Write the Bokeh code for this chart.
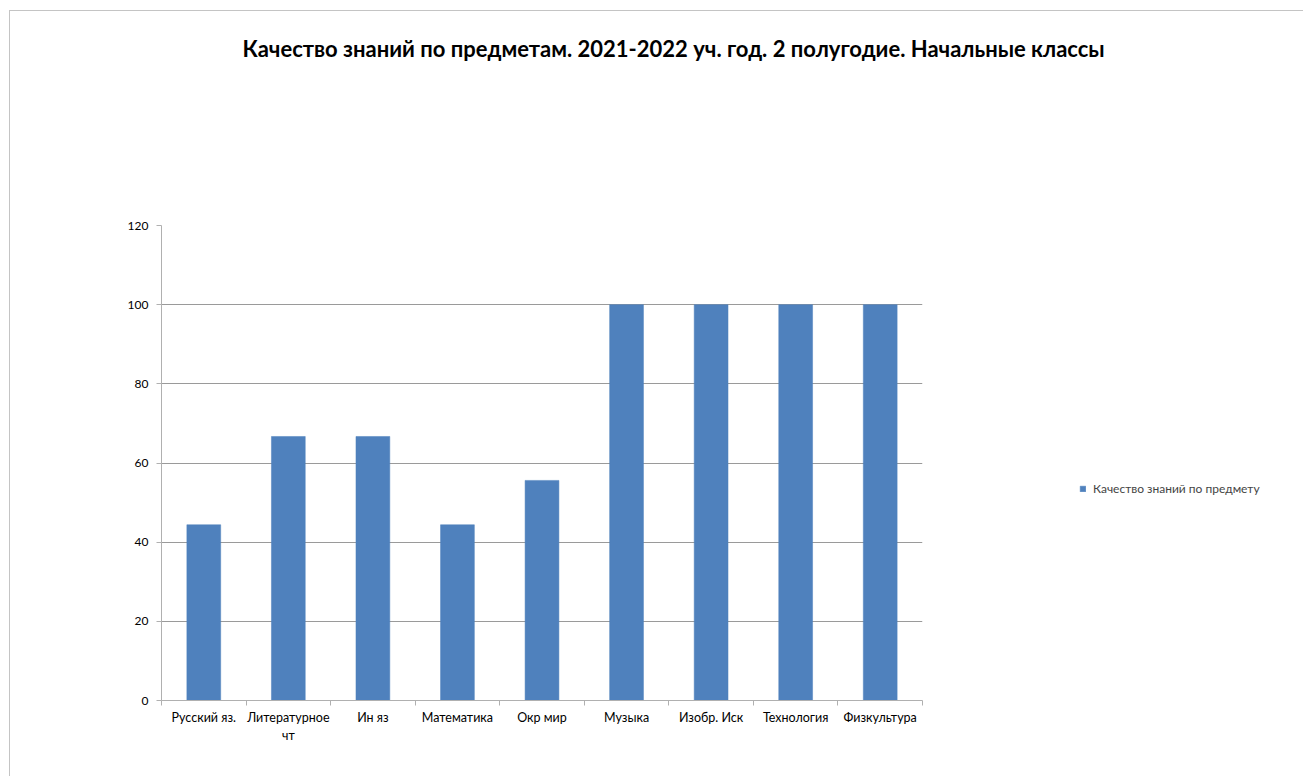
from bokeh.plotting import figure
from bokeh.models import (Range1d, LinearAxis, FixedTicker, Title,
                          Legend, LegendItem, ColumnDataSource)
from bokeh.embed import file_html
from bokeh.resources import INLINE

title_text = "Качество знаний по предметам. 2021-2022 уч. год. 2 полугодие. Начальные классы"
series_name = "Качество знаний по предмету"
subjects = ["Русский яз.", "Литературное\nчт", "Ин яз", "Математика", "Окр мир",
            "Музыка", "Изобр. Иск", "Технология", "Физкультура"]
quality = [44.4, 66.7, 66.7, 44.4, 55.6, 100, 100, 100, 100]
y_ticks = [0, 20, 40, 60, 80, 100, 120]

FONT = "Lato"
BAR = "#4f81bd"
GRID = "#9a9a9a"
AXIS = "#b0b0b0"

n = len(subjects)
centers = [i + 0.5 for i in range(n)]
edges = list(range(n + 1))

p = figure(frame_width=761, frame_height=475, output_backend="svg", toolbar_location=None,
           x_range=Range1d(0, n), y_range=Range1d(0, 120),
           x_axis_location=None, y_axis_location=None,
           min_border_left=151, min_border_right=0, min_border_top=214, min_border_bottom=77)
p.margin = (10, 0, 0, 9)
p.outline_line_color = None
p.background_fill_color = "white"
p.border_fill_color = "white"
p.styles = {"border-top": "1px solid #c4c4c4", "border-left": "1px solid #c4c4c4"}

src = ColumnDataSource(dict(x=centers, subject=subjects, quality=quality))
bars = p.vbar(x="x", top="quality", width=0.4, source=src,
              fill_color=BAR, line_color=BAR, line_width=0.5)

# y axis
yax = LinearAxis(ticker=FixedTicker(ticks=y_ticks))
yax.axis_line_color = AXIS
yax.major_tick_line_color = AXIS
yax.major_tick_out = 5
yax.major_tick_in = 0
yax.minor_tick_line_color = None
yax.major_label_text_font = FONT
yax.major_label_text_font_size = "12px"
yax.major_label_text_color = "#000000"
yax.major_label_standoff = 8
p.add_layout(yax, "left")

# x axis: labels at bar centres, tick marks at category boundaries (minor ticks)
xax = LinearAxis(ticker=FixedTicker(ticks=centers, minor_ticks=edges),
                 major_label_overrides={c: s for c, s in zip(centers, subjects)})
xax.axis_line_color = AXIS
xax.major_tick_line_color = None
xax.major_tick_out = 0
xax.major_tick_in = 0
xax.minor_tick_line_color = AXIS
xax.minor_tick_out = 5
xax.minor_tick_in = 0
xax.major_label_text_font = FONT
xax.major_label_text_font_size = "12.5px"
xax.major_label_text_color = "#000000"
xax.major_label_standoff = 4
p.add_layout(xax, "below")

p.ygrid.ticker = FixedTicker(ticks=y_ticks)
p.ygrid.grid_line_color = GRID
p.xgrid.grid_line_color = None

# title (trailing blank lines lift it towards the top of the canvas)
p.add_layout(Title(text=title_text + "\n" * 5, text_font=FONT, text_font_size="22px",
                   text_font_style="bold", text_color="#000000", align="left",
                   text_line_height=1.2, offset=81, standoff=4), "above")

legend = Legend(items=[LegendItem(label=series_name, renderers=[bars])],
                location=(157, 204), orientation="vertical")
legend.border_line_color = None
legend.background_fill_alpha = 0
legend.padding = 0
legend.margin = 0
legend.glyph_width = 7
legend.glyph_height = 7
legend.label_standoff = 7
legend.label_text_font = FONT
legend.label_text_font_size = "12px"
legend.label_height = 15
p.add_layout(legend, "right")

open("out.html", "w").write(file_html(p, INLINE))
